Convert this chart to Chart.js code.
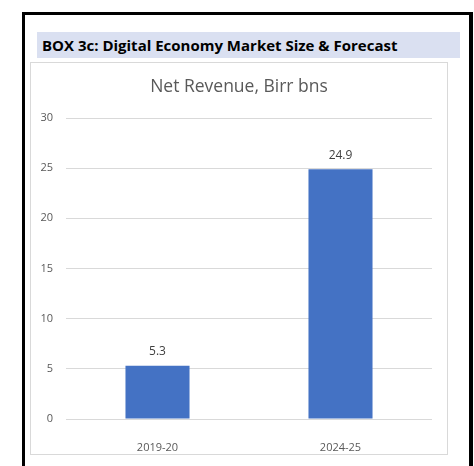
<!DOCTYPE html>
<html>
<head>
<meta charset="utf-8">
<script src="https://cdn.jsdelivr.net/npm/chart.js@4.4.1/dist/chart.umd.min.js"></script>
<style>
  body{
    margin:0;
    background:#ffffff;
    font-family:"Open Sans", sans-serif;
  }
  .frame{
    position:absolute;
    left:22px;
    top:12px;
    width:444px;
    height:470px;
    border:3px solid #000000;
    border-right-width:4px;
  }
  .header{
    position:absolute;
    left:37px;
    top:32px;
    width:423px;
    height:26px;
    background:#dae0f1;
    font-weight:700;
    font-size:15px;
    line-height:27px;
    color:#000000;
    box-sizing:border-box;
    padding-left:5px;
  }
  .chartBox{
    position:absolute;
    left:30px;
    top:62px;
    width:416px;
    height:391px;
    border:1px solid #d9d9d9;
  }
</style>
</head>
<body>

<div class="frame"></div>
<div class="header">BOX 3c: Digital Economy Market Size &amp; Forecast</div>
<div class="chartBox"><canvas id="barChart" width="416" height="391"></canvas></div>

<script>

const periods = ["2019-20", "2024-25"];

const netRevenue = [5.3, 24.9];

const yTicks = [0, 5, 10, 15, 20, 25, 30];

// writes the value above each bar
const barValueLabels = {

    id:"barValueLabels",

    afterDatasetsDraw(chart){

        const ctx = chart.ctx;

        const meta = chart.getDatasetMeta(0);

        ctx.save();

        ctx.font = "12px 'Open Sans', sans-serif";
        ctx.fillStyle = "#404040";
        ctx.textAlign = "center";
        ctx.textBaseline = "middle";

        meta.data.forEach((bar, i)=>{

            ctx.fillText(netRevenue[i].toFixed(1), bar.x, bar.y - 14);

        });

        ctx.restore();

    }

};

new Chart(document.getElementById("barChart").getContext("2d"),{

    type:"bar",

    data:{

        labels:periods,

        datasets:[{

            label:"Net Revenue",

            data:netRevenue,

            backgroundColor:"#4472c4",

            borderWidth:0,

            categoryPercentage:1,

            barPercentage:0.35

        }]

    },

    options:{

        responsive:false,

        animation:false,

        layout:{
            padding:0
        },

        plugins:{

            legend:{display:false},

            tooltip:{enabled:false},

            title:{

                display:true,

                text:"Net Revenue, Birr bns",

                color:"#595959",

                font:{
                    size:17.5,
                    weight:"400",
                    family:"Open Sans"
                },

                padding:{top:14, bottom:20}

            }

        },

        scales:{

            x:{

                grid:{display:false},

                border:{display:false},

                ticks:{
                    color:"#595959",
                    padding:14,
                    font:{size:11, family:"Open Sans"}
                },

                afterFit(scale){
                    scale.height = 35;
                }

            },

            y:{

                min:yTicks[0],

                max:yTicks[yTicks.length - 1],

                afterBuildTicks(scale){
                    scale.ticks = yTicks.map(v=>({value:v}));
                },

                grid:{
                    color:"#d9d9d9",
                    lineWidth:1,
                    drawTicks:false
                },

                border:{display:false},

                ticks:{
                    color:"#595959",
                    padding:13,
                    font:{size:11, family:"Open Sans"}
                },

                afterFit(scale){
                    scale.width = 35;
                }

            },

            // empty right-hand margin so the plot sits left of centre
            // while the title stays centred on the whole box
            yRight:{

                position:"right",

                grid:{display:false},

                border:{display:false},

                ticks:{display:false},

                afterFit(scale){
                    scale.width = 15;
                }

            }

        }

    },

    plugins:[barValueLabels]

});

</script>
</body>
</html>
